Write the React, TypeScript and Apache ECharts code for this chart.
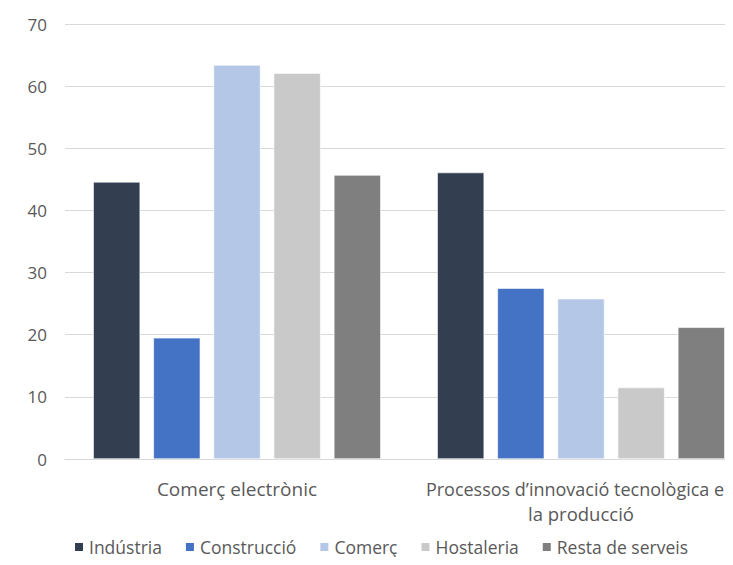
import React, { useEffect, useRef } from "react";
import * as echarts from "echarts";

const categories = ["Comerç electrònic", "Processos d’innovació tecnològica e\nla producció"];
const seriesNames = ["Indústria", "Construcció", "Comerç", "Hostaleria", "Resta de serveis"];
const industria = [44.6, 46.1];
const construccio = [19.5, 27.5];
const comerc = [63.4, 25.8];
const hostaleria = [62.1, 11.5];
const restaServeis = [45.7, 21.2];
const colors = ["#333F50", "#4472C4", "#B4C7E7", "#C9C9C9", "#7F7F7F"];

export default function App() {
  const ref = useRef<HTMLDivElement>(null);
  useEffect(() => {
    const chart = echarts.init(ref.current!, null, { renderer: "svg" });
    const values = [industria, construccio, comerc, hostaleria, restaServeis];
    const font = "Open Sans";
    const base = { color: "#595959", fontFamily: font, lineHeight: 25 };
    chart.setOption({
      animation: false,
      textStyle: { fontFamily: font },
      grid: { left: 65, right: 0, top: 24, bottom: 106, containLabel: false },
      legend: {
        top: 537,
        left: 73,
        width: 680,
        padding: 0,
        itemWidth: 10,
        itemHeight: 10,
        itemGap: 22,
        icon: "rect",
        textStyle: { color: "#595959", fontSize: 17.5, lineHeight: 20, fontFamily: font },
        data: seriesNames,
      },
      xAxis: {
        type: "category",
        data: categories,
        axisLine: { show: true, lineStyle: { color: "#D9D9D9", width: 1 } },
        axisTick: { show: false },
        axisLabel: {
          color: "#595959",
          fontSize: 18,
          lineHeight: 25,
          margin: 17,
          fontFamily: font,
          interval: 0,
          hideOverlap: false,
          formatter: (value: string, idx: number) => {
            const lines = value.split("\n");
            if (idx === 0) return lines.map((l) => `{c|${l}}`).join("\n");
            return lines.map((l, i) => (i === 0 ? `{a|${l}}` : `{b|${l}}`)).join("\n");
          },
          rich: {
            c: { ...base, fontSize: 19 },
            a: { ...base, fontSize: 18, padding: [0, 12, 0, 0] },
            b: { ...base, fontSize: 18.5 },
          },
        },
      },
      yAxis: {
        type: "value",
        min: 0,
        max: 70,
        interval: 10,
        axisLine: { show: false },
        axisTick: { show: false },
        splitLine: { lineStyle: { color: "#D9D9D9", width: 1 } },
        axisLabel: { color: "#595959", fontSize: 17, margin: 18, fontFamily: font },
      },
      series: seriesNames.map((name, i) => ({
        name,
        type: "bar",
        data: values[i],
        barWidth: 47,
        barGap: "28%",
        itemStyle: { color: colors[i], borderColor: "#FFFFFF", borderWidth: 0.6 },
      })),
    });
    return () => chart.dispose();
  }, []);
  return (
    <div style={{ width: 733, height: 565, margin: -8, overflow: "hidden", position: "relative" }}>
      <div ref={ref} style={{ width: 753, height: 565 }} />
    </div>
  );
}
